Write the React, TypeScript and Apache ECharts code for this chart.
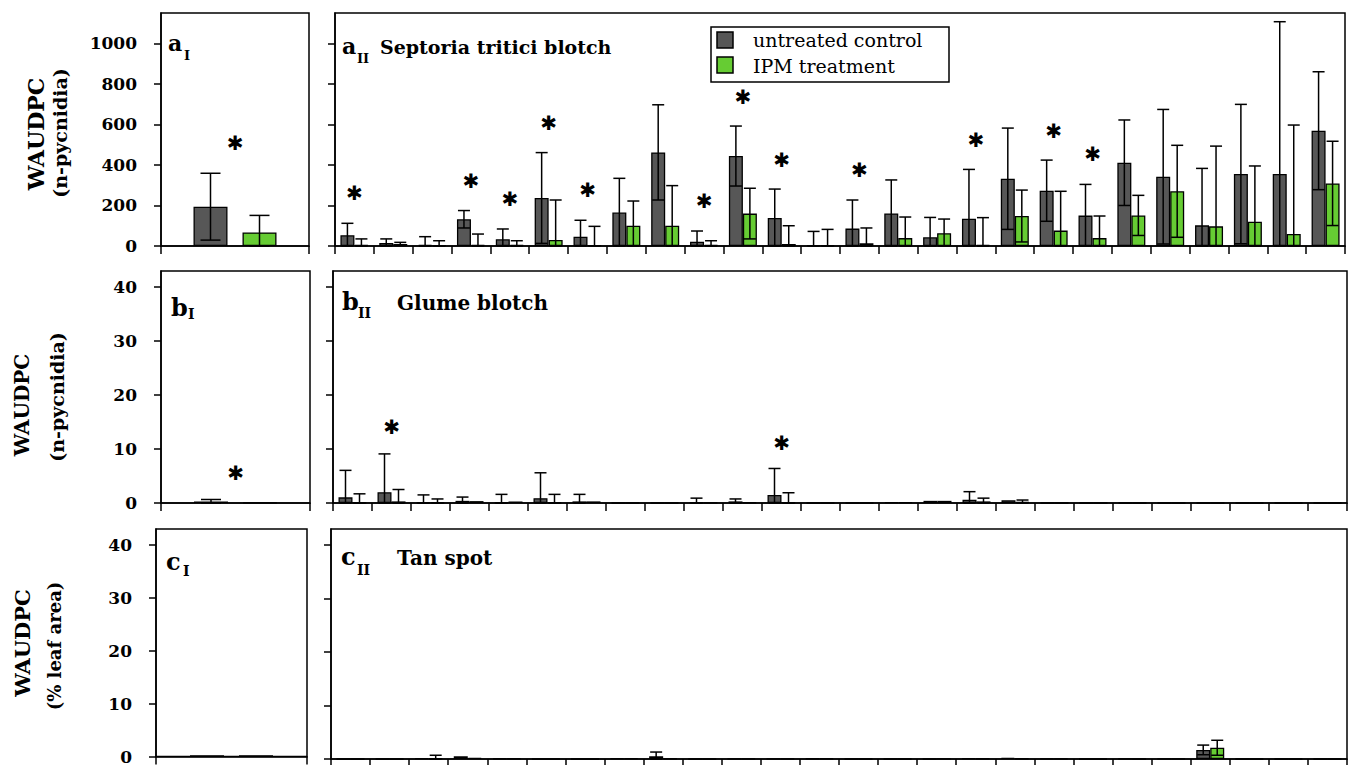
import React, { useEffect, useRef } from 'react';
import * as echarts from 'echarts';

// ---------- categories ----------
const overallCat = ['all sites'];
const siteCats = ['1', '2', '3', '4', '5', '6', '7', '8', '9', '10', '11', '12', '13', '14', '15', '16', '17', '18', '19', '20', '21', '22', '23', '24', '25', '26'];

// ---------- a: Septoria tritici blotch (WAUDPC, n-pycnidia) ----------
const stbAllControl = [194];
const stbAllControlSd = [165];
const stbAllIpm = [67];
const stbAllIpmSd = [84];
const stbAllStars = [510];

const stbControl = [53, 15, 5, 132, 33, 237, 46, 165, 462, 21, 444, 138, 3, 86, 161, 43, 135, 332, 273, 150, 411, 342, 102, 355, 355, 569];
const stbControlSd = [59, 20, 41, 43, 51, 224, 81, 169, 235, 53, 148, 143, 69, 141, 165, 98, 243, 250, 151, 154, 211, 332, 281, 344, 752, 291];
const stbIpm = [5, 10, 3, 5, 5, 30, 3, 100, 100, 5, 160, 10, 3, 13, 39, 63, 5, 148, 76, 39, 151, 270, 97, 120, 59, 309];
const stbIpmSd = [30, 8, 23, 54, 21, 197, 94, 122, 198, 21, 125, 90, 79, 76, 104, 70, 135, 128, 194, 109, 99, 227, 396, 275, 538, 208];
const stbStars = [262, null, null, 321, 231, 605, 274, null, null, 222, 736, 426, null, 375, null, null, 523, null, 569, 454, null, null, null, null, null, null];

// ---------- b: Glume blotch (WAUDPC, n-pycnidia) ----------
const gbAllControl = [0.3];
const gbAllControlSd = [0.35];
const gbAllIpm = [0.05];
const gbAllIpmSd = [0];
const gbAllStars = [5.6];

const gbControl = [1.05, 2.0, 0.05, 0.4, 0.05, 0.9, 0.3, 0, 0, 0.1, 0.3, 1.5, 0, 0, 0.15, 0.4, 0.6, 0.5, 0, 0, 0, 0, 0, 0, 0, 0];
const gbControlSd = [5.0, 7.1, 1.45, 0.7, 1.55, 4.7, 1.3, 0, 0, 0.8, 0.45, 4.9, 0, 0, 0, 0, 1.5, 0, 0, 0, 0, 0, 0, 0, 0, 0];
const gbIpm = [0.05, 0.3, 0.05, 0.35, 0.3, 0.05, 0.3, 0, 0, 0.05, 0.1, 0.1, 0, 0, 0.15, 0.4, 0.3, 0.2, 0, 0, 0, 0, 0, 0, 0, 0];
const gbIpmSd = [1.65, 2.2, 0.7, 0, 0, 1.55, 0, 0, 0, 0, 0, 1.8, 0, 0, 0, 0, 0.6, 0.35, 0, 0, 0, 0, 0, 0, 0, 0];
const gbStars = [null, 14.0, null, null, null, null, null, null, null, null, null, 11.1, null, null, null, null, null, null, null, null, null, null, null, null, null, null];

// ---------- c: Tan spot (WAUDPC, % leaf area) ----------
const tsAllControl = [0.25];
const tsAllControlSd = [0];
const tsAllIpm = [0.25];
const tsAllIpmSd = [0];
const tsAllStars = [null];

const tsControl = [0, 0, 0.15, 0.5, 0.1, 0, 0, 0.15, 0.5, 0, 0.05, 0.05, 0.1, 0, 0, 0, 0.15, 0.2, 0.08, 0, 0.05, 0.05, 1.7, 0, 0, 0];
const tsControlSd = [0, 0, 0, 0, 0, 0, 0, 0, 0.8, 0, 0, 0, 0, 0, 0, 0, 0, 0, 0, 0, 0, 0, 0.9, 0, 0, 0];
const tsIpm = [0, 0, 0.15, 0.2, 0.1, 0, 0, 0.15, 0.1, 0, 0.05, 0.05, 0.1, 0, 0, 0.05, 0.1, 0.1, 0.08, 0, 0, 0.05, 2.1, 0, 0, 0];
const tsIpmSd = [0, 0, 0.55, 0, 0, 0, 0, 0, 0, 0, 0, 0, 0, 0, 0, 0, 0, 0, 0, 0, 0, 0, 1.4, 0, 0, 0];
const tsStars = [null, null, null, null, null, null, null, null, null, null, null, null, null, null, null, null, null, null, null, null, null, null, null, null, null, null];

// ---------- axis ticks ----------
const stbTicks = [0, 200, 400, 600, 800, 1000];
const smallTicks = [0, 10, 20, 30, 40];

const SERIF = '"DejaVu Serif", serif';
const DARK = '#575757';
const GREEN = '#66cc33';

type Panel = {
  box: { left: number; top: number; width: number; height: number };
  max: number;
  ticks: number[];
  labels: boolean;
  cats: string[];
  cm: number[];
  cs: number[];
  im: number[];
  is: number[];
  stars: (number | null)[];
  barW: number;
  gap: number;
  capW: number;
};

const panels: Panel[] = [
  { box: { left: 161, top: 13, width: 148, height: 233 }, max: 1150, ticks: stbTicks, labels: true, cats: overallCat,
    cm: stbAllControl, cs: stbAllControlSd, im: stbAllIpm, is: stbAllIpmSd, stars: stbAllStars, barW: 34, gap: 15, capW: 20 },
  { box: { left: 335, top: 13, width: 1010, height: 233 }, max: 1150, ticks: stbTicks, labels: false, cats: siteCats,
    cm: stbControl, cs: stbControlSd, im: stbIpm, is: stbIpmSd, stars: stbStars, barW: 14, gap: 0, capW: 12 },
  { box: { left: 161, top: 271, width: 149, height: 232 }, max: 43, ticks: smallTicks, labels: true, cats: overallCat,
    cm: gbAllControl, cs: gbAllControlSd, im: gbAllIpm, is: gbAllIpmSd, stars: gbAllStars, barW: 34, gap: 15, capW: 20 },
  { box: { left: 333, top: 271, width: 1014, height: 232 }, max: 43, ticks: smallTicks, labels: false, cats: siteCats,
    cm: gbControl, cs: gbControlSd, im: gbIpm, is: gbIpmSd, stars: gbStars, barW: 14, gap: 0, capW: 12 },
  { box: { left: 156, top: 529, width: 151, height: 230 }, max: 43, ticks: smallTicks, labels: true, cats: overallCat,
    cm: tsAllControl, cs: tsAllControlSd, im: tsAllIpm, is: tsAllIpmSd, stars: tsAllStars, barW: 34, gap: 15, capW: 20 },
  { box: { left: 331, top: 529, width: 1016, height: 230 }, max: 43, ticks: smallTicks, labels: false, cats: siteCats,
    cm: tsControl, cs: tsControlSd, im: tsIpm, is: tsIpmSd, stars: tsStars, barW: 14, gap: 0, capW: 12 },
];

const BLACK_LINE = { color: '#000', width: 1.5 };

function txt(x: number, baseline: number, text: string, size: number, weight = 'bold', rotate = 0) {
  return {
    type: 'text',
    x,
    y: rotate ? baseline : baseline - 0.35 * size,
    rotation: rotate,
    style: {
      text,
      fill: '#000',
      font: `${weight} ${size}px ${SERIF}`,
      align: rotate ? 'center' : 'left',
      verticalAlign: 'middle',
    },
    z: 100,
  };
}

function buildOption() {
  const grid = panels.map((p) => ({
    ...p.box,
    show: true,
    borderColor: '#000',
    borderWidth: 1.5,
    backgroundColor: 'transparent',
    containLabel: false,
  }));
  const xAxis = panels.map((p, i) => ({
    type: 'category',
    gridIndex: i,
    data: p.cats,
    boundaryGap: true,
    axisLine: { show: true, lineStyle: BLACK_LINE },
    axisTick: { show: true, interval: 0, inside: false, length: 8, lineStyle: BLACK_LINE },
    axisLabel: { show: false, interval: 0 },
    splitLine: { show: false },
  }));
  const yAxis = panels.map((p, i) => ({
    type: 'value',
    gridIndex: i,
    min: 0,
    max: p.max,
    axisLine: { show: true, lineStyle: BLACK_LINE },
    axisTick: { show: true, inside: false, length: 7, customValues: p.ticks, lineStyle: BLACK_LINE },
    axisLabel: {
      show: p.labels,
      customValues: p.ticks,
      formatter: (v: number) => String(v),
      margin: 24,
      color: '#000',
      fontFamily: SERIF,
      fontWeight: 'bold',
      fontSize: 17,
    },
    splitLine: { show: false },
  }));

  const series: any[] = [];
  panels.forEach((p, i) => {
    const off = (p.barW + p.gap) / 2;
    series.push({
      type: 'bar',
      name: 'untreated control',
      xAxisIndex: i,
      yAxisIndex: i,
      data: p.cm,
      barWidth: p.barW,
      barGap: `${(p.gap / p.barW) * 100}%`,
      itemStyle: { color: DARK, borderColor: '#000', borderWidth: 1.3 },
      z: 2,
    });
    series.push({
      type: 'bar',
      name: 'IPM treatment',
      xAxisIndex: i,
      yAxisIndex: i,
      data: p.im,
      barWidth: p.barW,
      barGap: `${(p.gap / p.barW) * 100}%`,
      itemStyle: { color: GREEN, borderColor: '#000', borderWidth: 1.3 },
      z: 2,
    });
    const errData: number[][] = [];
    p.cm.forEach((m, k) => { if (p.cs[k] > 0) errData.push([k, m, p.cs[k], -1]); });
    p.im.forEach((m, k) => { if (p.is[k] > 0) errData.push([k, m, p.is[k], 1]); });
    series.push({
      type: 'custom',
      xAxisIndex: i,
      yAxisIndex: i,
      data: errData,
      encode: { x: 0, y: 1 },
      z: 5,
      silent: true,
      renderItem: (_params: any, api: any) => {
        const k = api.value(0);
        const m = api.value(1);
        const sd = api.value(2);
        const side = api.value(3);
        const hi = api.coord([k, m + sd]);
        const lo = api.coord([k, Math.max(0, m - sd)]);
        const x = hi[0] + side * off;
        const hw = p.capW / 2;
        const style = { stroke: '#000', lineWidth: 1.5 };
        return {
          type: 'group',
          children: [
            { type: 'line', shape: { x1: x, y1: hi[1], x2: x, y2: lo[1] }, style },
            { type: 'line', shape: { x1: x - hw, y1: hi[1], x2: x + hw, y2: hi[1] }, style },
            { type: 'line', shape: { x1: x - hw, y1: lo[1], x2: x + hw, y2: lo[1] }, style },
          ],
        };
      },
    });
    const starData: number[][] = [];
    p.stars.forEach((s, k) => { if (s != null) starData.push([k, s]); });
    series.push({
      type: 'custom',
      xAxisIndex: i,
      yAxisIndex: i,
      data: starData,
      encode: { x: 0, y: 1 },
      z: 6,
      silent: true,
      renderItem: (_params: any, api: any) => {
        const c = api.coord([api.value(0), api.value(1)]);
        return {
          type: 'text',
          x: c[0],
          y: c[1],
          style: {
            text: '✱',
            fill: '#000',
            font: `normal 20px "DejaVu Sans", sans-serif`,
            align: 'center',
            verticalAlign: 'middle',
          },
        };
      },
    });
  });

  const graphic: any[] = [
    // row axis titles
    txt(36, 134, 'WAUDPC', 22, 'bold', Math.PI / 2),
    txt(60, 133, '(n-pycnidia)', 19, 'bold', Math.PI / 2),
    txt(22, 405, 'WAUDPC', 20, 'bold', Math.PI / 2),
    txt(57, 397, '(n-pycnidia)', 19, 'bold', Math.PI / 2),
    txt(22, 643, 'WAUDPC', 21, 'bold', Math.PI / 2),
    txt(54, 646, '(% leaf area)', 18, 'bold', Math.PI / 2),
    // panel labels
    txt(168, 51, 'a', 22), txt(184, 60, 'I', 13),
    txt(342, 54, 'a', 22), txt(357, 63, 'II', 13),
    txt(380, 54, 'Septoria tritici blotch', 19),
    txt(171, 316, 'b', 24), txt(188, 319, 'I', 14),
    txt(342, 310, 'b', 24), txt(358, 318, 'II', 14),
    txt(397, 310, 'Glume blotch', 20),
    txt(166, 570, 'c', 24), txt(183, 576, 'I', 14),
    txt(341, 565, 'c', 24), txt(357, 575, 'II', 14),
    txt(397, 565, 'Tan spot', 20),
    // legend
    { type: 'rect', shape: { x: 711, y: 27, width: 238, height: 55 }, style: { fill: '#fff', stroke: '#000', lineWidth: 1.5 }, z: 90 },
    { type: 'rect', shape: { x: 717, y: 32, width: 16, height: 16 }, style: { fill: DARK, stroke: '#000', lineWidth: 1.5 }, z: 91 },
    { type: 'rect', shape: { x: 717, y: 57, width: 16, height: 16 }, style: { fill: GREEN, stroke: '#000', lineWidth: 1.5 }, z: 91 },
    txt(753, 47, 'untreated control', 19, 'normal'),
    txt(753, 73, 'IPM treatment', 19, 'normal'),
  ];

  return { animation: false, backgroundColor: '#fff', grid, xAxis, yAxis, series, graphic };
}

export default function App() {
  const ref = useRef<HTMLDivElement>(null);
  useEffect(() => {
    if (!ref.current) return;
    const chart = echarts.init(ref.current, undefined, { renderer: 'svg' });
    chart.setOption(buildOption() as any);
    return () => chart.dispose();
  }, []);
  return <div ref={ref} style={{ position: 'fixed', left: 0, top: 0, width: 1352, height: 765, background: '#fff' }} />;
}
